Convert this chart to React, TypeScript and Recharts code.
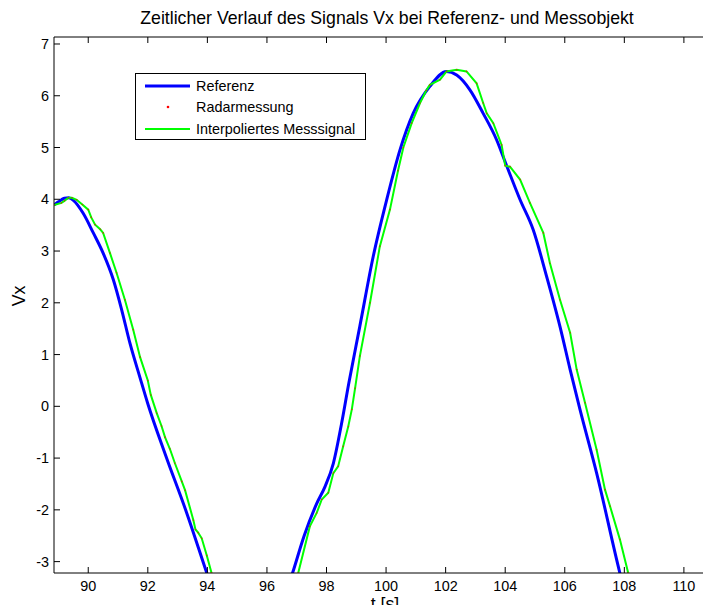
import { LineChart, Line, XAxis, YAxis, Legend } from 'recharts';

const FONT = '"Liberation Sans", Arial, Helvetica, sans-serif';

const xTicks = [90, 92, 94, 96, 98, 100, 102, 104, 106, 108, 110];
const yTicks = [-3, -2, -1, 0, 1, 2, 3, 4, 5, 6, 7];

// Referenz (blau)
const referenz = [
    { t: 88.85, v: 3.89 }, { t: 89.0, v: 3.95 }, { t: 89.2, v: 4.02 }, { t: 89.35, v: 4.03 },
    { t: 89.5, v: 3.98 }, { t: 89.83, v: 3.73 }, { t: 90.17, v: 3.35 }, { t: 90.5, v: 2.96 },
    { t: 90.84, v: 2.45 }, { t: 91.12, v: 1.87 }, { t: 91.4, v: 1.22 }, { t: 91.74, v: 0.55 },
    { t: 92.0, v: 0.05 }, { t: 92.6, v: -0.95 }, { t: 93.3, v: -2.05 }, { t: 93.98, v: -3.22 },
    { t: 94.5, v: -4.1 }, { t: 95.2, v: -4.8 }, { t: 96.0, v: -4.6 }, { t: 96.86, v: -3.22 },
    { t: 97.25, v: -2.5 }, { t: 97.67, v: -1.88 }, { t: 97.95, v: -1.55 }, { t: 98.23, v: -1.1 },
    { t: 98.5, v: -0.35 }, { t: 98.75, v: 0.45 }, { t: 99.12, v: 1.55 }, { t: 99.57, v: 2.9 },
    { t: 100.02, v: 3.99 }, { t: 100.47, v: 4.96 }, { t: 100.91, v: 5.66 }, { t: 101.47, v: 6.18 },
    { t: 102.03, v: 6.47 }, { t: 102.37, v: 6.4 }, { t: 102.82, v: 6.11 }, { t: 103.26, v: 5.66 },
    { t: 103.71, v: 5.15 }, { t: 104.0, v: 4.72 }, { t: 104.5, v: 3.99 }, { t: 104.94, v: 3.41 },
    { t: 105.39, v: 2.51 }, { t: 105.84, v: 1.54 }, { t: 106.18, v: 0.71 }, { t: 106.51, v: -0.06 },
    { t: 107.07, v: -1.29 }, { t: 107.85, v: -3.22 }, { t: 108.2, v: -4.0 },
];

// Radarmessung / interpoliertes Messsignal (grün)
const messsignal = [
    { t: 88.85, v: 3.89 }, { t: 89.1, v: 3.93 }, { t: 89.2, v: 3.97 }, { t: 89.33, v: 4.03 },
    { t: 89.45, v: 4.03 }, { t: 89.61, v: 3.99 }, { t: 89.8, v: 3.9 }, { t: 90.0, v: 3.8 },
    { t: 90.1, v: 3.65 }, { t: 90.23, v: 3.51 }, { t: 90.4, v: 3.42 }, { t: 90.5, v: 3.35 },
    { t: 90.73, v: 2.96 }, { t: 90.95, v: 2.58 }, { t: 91.23, v: 2.06 }, { t: 91.51, v: 1.48 },
    { t: 91.74, v: 0.95 }, { t: 92.0, v: 0.5 }, { t: 92.1, v: 0.22 }, { t: 92.3, v: -0.13 },
    { t: 92.46, v: -0.38 }, { t: 92.58, v: -0.6 }, { t: 92.74, v: -0.82 }, { t: 92.91, v: -1.1 },
    { t: 93.14, v: -1.45 }, { t: 93.25, v: -1.62 }, { t: 93.53, v: -2.2 }, { t: 93.6, v: -2.38 },
    { t: 93.69, v: -2.44 }, { t: 93.81, v: -2.55 }, { t: 93.98, v: -2.88 }, { t: 94.14, v: -3.22 },
    { t: 94.6, v: -4.0 }, { t: 95.4, v: -4.7 }, { t: 96.2, v: -4.5 }, { t: 97.05, v: -3.22 },
    { t: 97.44, v: -2.32 }, { t: 97.67, v: -2.06 }, { t: 97.84, v: -1.8 }, { t: 98.06, v: -1.67 },
    { t: 98.23, v: -1.29 }, { t: 98.39, v: -1.16 }, { t: 98.56, v: -0.77 }, { t: 98.73, v: -0.39 },
    { t: 98.85, v: -0.06 }, { t: 98.96, v: 0.35 }, { t: 99.12, v: 0.97 }, { t: 99.46, v: 2.0 },
    { t: 99.79, v: 3.09 }, { t: 100.13, v: 3.8 }, { t: 100.4, v: 4.55 }, { t: 100.58, v: 5.0 },
    { t: 100.86, v: 5.47 }, { t: 101.14, v: 5.86 }, { t: 101.35, v: 6.1 }, { t: 101.47, v: 6.21 },
    { t: 101.81, v: 6.31 }, { t: 102.03, v: 6.47 }, { t: 102.37, v: 6.5 }, { t: 102.7, v: 6.47 },
    { t: 103.04, v: 6.24 }, { t: 103.26, v: 5.86 }, { t: 103.38, v: 5.66 }, { t: 103.6, v: 5.47 },
    { t: 103.88, v: 5.05 }, { t: 104.0, v: 4.65 }, { t: 104.16, v: 4.63 }, { t: 104.5, v: 4.38 },
    { t: 104.83, v: 3.93 }, { t: 105.28, v: 3.35 }, { t: 105.5, v: 2.77 }, { t: 105.84, v: 2.06 },
    { t: 106.18, v: 1.42 }, { t: 106.4, v: 0.71 }, { t: 106.68, v: 0.07 }, { t: 107.07, v: -0.84 },
    { t: 107.35, v: -1.61 }, { t: 107.52, v: -1.93 }, { t: 107.85, v: -2.57 }, { t: 108.13, v: -3.22 },
    { t: 108.4, v: -3.8 },
];

const legendItems = [
    { name: 'Referenz', color: '#0000ff', kind: 'line' },
    { name: 'Radarmessung', color: '#ff0000', kind: 'dot' },
    { name: 'Interpoliertes Messsignal', color: '#00ff00', kind: 'line' },
];

const BottomTick = (props: any) => {
    const { x, y, payload } = props;
    return (
        <g>
            <line x1={x} x2={x} y1={y} y2={y - 6} stroke="#000" />
            <text x={x} y={y + 18} textAnchor="middle" fontSize={14.4} fontFamily={FONT} fill="#000">
                {payload.value}
            </text>
        </g>
    );
};

const TopTick = (props: any) => {
    const { x, y } = props;
    return <line x1={x} x2={x} y1={y} y2={y + 6} stroke="#000" />;
};

const LeftTick = (props: any) => {
    const { x, y, payload } = props;
    return (
        <g>
            <line x1={x} x2={x + 6} y1={y} y2={y} stroke="#000" />
            <text x={x - 5} y={y + 5} textAnchor="end" fontSize={14.4} fontFamily={FONT} fill="#000">
                {payload.value}
            </text>
        </g>
    );
};

const renderLegend = () => (
    <div
        style={{
            border: '1px solid #000',
            background: '#fff',
            width: 231,
            height: 67,
            boxSizing: 'border-box',
            fontFamily: FONT,
            fontSize: 14.4,
            paddingTop: 1,
        }}
    >
        {legendItems.map((item) => (
            <div key={item.name} style={{ display: 'flex', alignItems: 'center', height: 21.5 }}>
                <svg width={60} height={10}>
                    {item.kind === 'line' ? (
                        <line x1={9} x2={54} y1={5} y2={5} stroke={item.color} strokeWidth={item.color === '#0000ff' ? 3 : 2} />
                    ) : (
                        <circle cx={32} cy={5} r={1.3} fill={item.color} />
                    )}
                </svg>
                <span style={{ color: '#000' }}>{item.name}</span>
            </div>
        ))}
    </div>
);

const App = () => {
    return (
        <div style={{ position: 'relative', width: 711, height: 613, margin: -8, background: '#fff' }}>
            <LineChart width={711} height={613} margin={{ top: 36, right: 0, bottom: 0, left: 0 }}>
                <XAxis
                    type="number"
                    dataKey="t"
                    domain={[88.85, 110.91]}
                    ticks={xTicks}
                    allowDataOverflow
                    height={40}
                    tickSize={0}
                    tickMargin={0}
                    tickLine={false}
                    tick={<BottomTick />}
                    axisLine={{ stroke: '#000' }}
                    label={{
                        content: () => (
                            <text x={385} y={610} textAnchor="middle" fontSize={17.7} fontFamily={FONT} fill="#000">
                                t [s]
                            </text>
                        ),
                    }}
                />
                <XAxis
                    xAxisId="top"
                    orientation="top"
                    type="number"
                    dataKey="t"
                    domain={[88.85, 110.91]}
                    ticks={xTicks}
                    allowDataOverflow
                    height={1}
                    tickSize={0}
                    tickMargin={0}
                    tickLine={false}
                    tick={<TopTick />}
                    axisLine={{ stroke: '#000' }}
                />
                <YAxis
                    type="number"
                    dataKey="v"
                    domain={[-3.22, 7.135]}
                    ticks={yTicks}
                    allowDataOverflow
                    width={54}
                    tickSize={0}
                    tickMargin={0}
                    tickLine={false}
                    tick={<LeftTick />}
                    axisLine={{ stroke: '#000' }}
                    label={{
                        content: () => (
                            <text
                                x={25}
                                y={296}
                                transform="rotate(-90 25 296)"
                                textAnchor="middle"
                                fontSize={17.7}
                                fontFamily={FONT}
                                fill="#000"
                            >
                                Vx
                            </text>
                        ),
                    }}
                />
                <Legend
                    layout="vertical"
                    align="center"
                    verticalAlign="middle"
                    content={renderLegend}
                    wrapperStyle={{ left: 135, top: 73, width: 231, height: 67 }}
                />
                <Line
                    data={referenz}
                    dataKey="v"
                    type="monotone"
                    stroke="#0000ff"
                    strokeWidth={3}
                    dot={false}
                    isAnimationActive={false}
                />
                <Line
                    data={messsignal}
                    dataKey="v"
                    type="linear"
                    stroke="#00ff00"
                    strokeWidth={2}
                    dot={false}
                    isAnimationActive={false}
                />
                <Line
                    xAxisId="top"
                    data={messsignal}
                    dataKey="v"
                    type="linear"
                    stroke="none"
                    dot={{ r: 0.8, fill: '#ff0000', stroke: 'none', fillOpacity: 0.7 }}
                    isAnimationActive={false}
                />
            </LineChart>
            <div
                style={{
                    position: 'absolute',
                    left: 0,
                    width: 774,
                    top: 7,
                    textAlign: 'center',
                    fontFamily: FONT,
                    fontSize: 17.7,
                    lineHeight: '22px',
                    color: '#000',
                    whiteSpace: 'nowrap',
                }}
            >
                Zeitlicher Verlauf des Signals Vx bei Referenz- und Messobjekt
            </div>
        </div>
    );
};

export default App;
